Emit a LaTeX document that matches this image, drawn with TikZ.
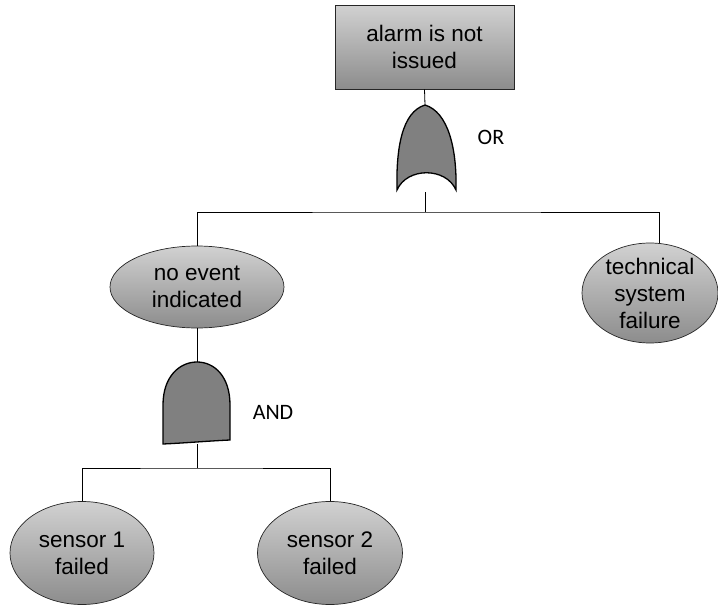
\documentclass[tikz,border=0pt]{standalone}
\usepackage{fontspec}
\setmainfont{Liberation Sans}
\newfontfamily\gatefont{Carlito}
\usetikzlibrary{shapes.geometric}
\begin{document}
\begin{tikzpicture}[x=1pt,y=-1pt,
  event/.style={draw=black!85, line width=0.7pt, top color=black!18, bottom color=black!45,
    align=center, inner sep=0pt, font=\fontsize{22.5}{27}\selectfont},
  topevent/.style={event, rectangle, minimum width=179pt, minimum height=84pt},
  basic/.style={event, ellipse},
  gateshape/.style={draw=black, line width=1.3pt, fill=black!50},
  gatelabel/.style={font=\gatefont\fontsize{22}{24}\selectfont},
  wire/.style={draw=black, line width=0.8pt}]
\useasboundingbox (0,0) rectangle (718,605);

% events
\node[topevent] (top) at (424.5,47) {alarm is not\\issued};
\node[basic, minimum width=174pt, minimum height=82pt] (noev) at (197,287) {no event\\indicated};
\node[basic, minimum width=136pt, minimum height=100pt] (tech) at (650,293) {technical\\system\\failure};
\node[basic, minimum width=144pt, minimum height=103pt] (s1) at (82,553) {sensor 1\\failed};
\node[basic, minimum width=145pt, minimum height=103pt] (s2) at (330,553) {sensor 2\\failed};

% OR gate
\coordinate (orT) at (425,105);
\coordinate (orB) at (425,192);
\path[gateshape] (425,105) .. controls (402,112) and (396,148) .. (397,190)
  .. controls (407,167) and (446,167) .. (456,190)
  .. controls (457,148) and (448,112) .. (425,105) -- cycle;
\node[gatelabel] (orlab) at (491,137) {OR};

% AND gate
\coordinate (andT) at (197,362);
\coordinate (andB) at (197,444);
\path[gateshape] (163,444) -- (163,405) .. controls (163,376) and (180,362) .. (197,362)
  .. controls (214,362) and (230,376) .. (230,405) -- (230,440)
  .. controls (208,441) and (185,443) .. (163,444) -- cycle;
\node[gatelabel] (andlab) at (273,412) {AND};

% junctions
\coordinate (jor) at (425,212);
\coordinate (jand) at (197,468);

% connectors
\draw[wire] (top.south) -- (orT);
\draw[wire] (orB) -- (jor);
\draw[wire] (noev.north) |- (jor) -| (tech.79);
\draw[wire] (noev.south) -- (andT);
\draw[wire] (andB) -- (jand);
\draw[wire] (s1.north) |- (jand) -| (s2.north);
\end{tikzpicture}
\end{document}
